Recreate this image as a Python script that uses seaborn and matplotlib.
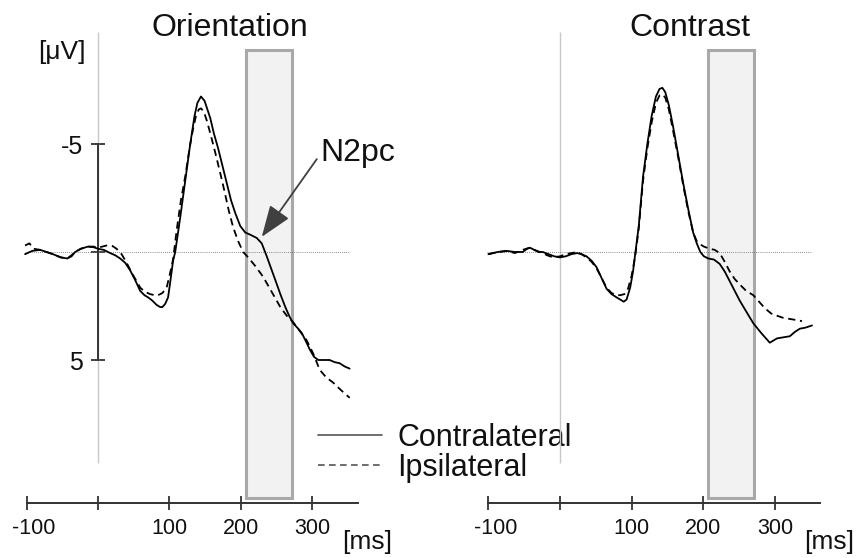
import numpy as np
import pandas as pd
import matplotlib
matplotlib.use("Agg")
import matplotlib.pyplot as plt
import seaborn as sns
from matplotlib.patches import Rectangle
from matplotlib.transforms import ScaledTranslation

# ---------------- data ----------------
panels = ["Orientation", "Contrast"]
sides = ["Contralateral", "Ipsilateral"]

ori_contra_t = [-102, -92, -81, -72, -63, -52, -43, -37, -32, -24, -14, -6, 0, 8, 17, 24, 31, 38, 45, 52,
                59, 65, 70, 76, 82, 87, 90, 94, 98, 101, 105, 108, 115, 122, 129, 135, 139, 144, 149, 153,
                157, 162, 168, 174, 180, 186, 192, 199, 206, 213, 222, 229, 236, 242, 248, 255, 262, 268,
                273, 280, 285, 291, 296, 302, 308, 316, 324, 331, 338, 345, 352]
ori_contra_v = [0.1, -0.05, -0.1, 0.0, 0.1, 0.25, 0.3, 0.2, 0.0, -0.15, -0.25, -0.22, -0.15, -0.1, 0.05, 0.15,
                0.3, 0.5, 0.85, 1.3, 1.8, 2.0, 2.1, 2.25, 2.45, 2.55, 2.55, 2.4, 2.1, 1.4, 0.4, 0.0, -1.6, -3.3,
                -5.0, -6.3, -6.9, -7.2, -7.0, -6.6, -6.2, -5.5, -4.8, -4.0, -3.2, -2.4, -1.8, -1.2, -0.9,
                -0.8, -0.65, -0.4, 0.2, 0.75, 1.3, 1.95, 2.55, 3.0, 3.3, 3.55, 3.75, 4.15, 4.5, 4.85, 5.0,
                5.0, 5.0, 5.1, 5.15, 5.3, 5.4]

ori_ipsi_t = [-102, -96, -90, -81, -72, -63, -52, -43, -37, -32, -24, -14, -6, 0, 6, 12, 20, 26, 33, 40, 47,
              53, 59, 66, 73, 79, 84, 90, 96, 100, 105, 110, 116, 122, 128, 133, 137, 141, 144, 148, 152,
              157, 164, 171, 177, 183, 189, 196, 203, 210, 220, 231, 243, 255, 264, 273, 282, 292, 301,
              310, 319, 329, 340, 352]
ori_ipsi_v = [-0.3, -0.4, -0.15, -0.1, 0.0, 0.1, 0.25, 0.3, 0.15, 0.0, -0.15, -0.25, -0.25, -0.2, -0.25,
              -0.3, -0.28, -0.15, 0.1, 0.5, 0.95, 1.3, 1.65, 1.85, 1.95, 2.0, 2.0, 1.9, 1.65, 1.1, 0.35,
              -1.0, -2.4, -3.5, -4.8, -5.7, -6.3, -6.6, -6.65, -6.5, -6.1, -5.5, -4.6, -3.65, -2.8, -1.9,
              -1.15, -0.5, 0.0, 0.25, 0.65, 1.15, 1.85, 2.55, 2.95, 3.25, 3.65, 4.1, 4.7, 5.45, 5.8, 6.05,
              6.4, 6.75]

con_contra_t = [-100, -87, -74, -63, -52, -46, -42, -36, -30, -24, -16, -8, 0, 8, 16, 24, 30, 37, 44, 51, 58,
                65, 72, 79, 84, 89, 93, 98, 102, 105, 110, 116, 122, 128, 134, 139, 143, 147, 152, 158,
                165, 172, 179, 186, 191, 196, 201, 207, 215, 223, 230, 237, 244, 251, 260, 270, 281, 293,
                298, 303, 312, 321, 328, 335, 343, 352]
con_contra_v = [0.1, 0.0, -0.05, 0.0, 0.0, -0.15, -0.2, -0.1, 0.0, 0.0, 0.1, 0.2, 0.25, 0.2, 0.1, 0.05, 0.1,
                0.2, 0.4, 0.7, 1.2, 1.7, 1.95, 2.1, 2.2, 2.3, 2.2, 1.65, 0.9, 0.1, -1.2, -3.5, -5.0, -6.3,
                -7.2, -7.55, -7.6, -7.4, -6.8, -5.8, -4.5, -3.2, -2.0, -0.9, -0.4, 0.0, 0.2, 0.3, 0.35,
                0.55, 0.9, 1.35, 1.8, 2.25, 2.75, 3.3, 3.75, 4.2, 4.1, 4.0, 3.95, 3.9, 3.7, 3.55, 3.5, 3.4]

con_ipsi_t = [-100, -87, -74, -63, -52, -42, -36, -24, -18, -10, 0, 8, 16, 24, 30, 37, 44, 51, 58, 65, 72,
              79, 84, 90, 95, 100, 105, 110, 116, 122, 128, 134, 139, 143, 147, 152, 158, 165, 172, 179,
              186, 191, 196, 201, 209, 216, 223, 230, 237, 244, 251, 260, 270, 278, 286, 295, 303, 312,
              321, 330, 338]
con_ipsi_v = [0.1, 0.0, -0.05, 0.05, -0.1, -0.2, -0.1, 0.05, 0.15, 0.25, 0.2, 0.1, 0.05, 0.0, 0.1, 0.25,
              0.45, 0.75, 1.2, 1.65, 1.9, 2.0, 2.0, 1.95, 1.7, 1.1, 0.2, -1.1, -3.3, -4.8, -6.0, -6.9,
              -7.25, -7.3, -7.15, -6.6, -5.6, -4.4, -3.1, -1.9, -0.9, -0.5, -0.35, -0.25, -0.15, -0.1,
              0.05, 0.45, 0.9, 1.25, 1.5, 1.8, 2.0, 2.3, 2.6, 2.85, 2.95, 3.05, 3.1, 3.15, 3.2]

xtick_values = [-100, 0, 100, 200, 300]
xtick_labels = ["-100", "", "100", "200", "300"]
ytick_values = [-5, 0, 5]
ytick_labels = ["-5", "", "5"]
window = (207, 271)          # N2pc time window [ms]
n2pc_tip = (229, -0.7)       # point the arrow indicates

rows = []
for pan, side, t, v in [("Orientation", "Contralateral", ori_contra_t, ori_contra_v),
                        ("Orientation", "Ipsilateral", ori_ipsi_t, ori_ipsi_v),
                        ("Contrast", "Contralateral", con_contra_t, con_contra_v),
                        ("Contrast", "Ipsilateral", con_ipsi_t, con_ipsi_v)]:
    for a, b in zip(t, v):
        rows.append((pan, side, a, b))
df = pd.DataFrame(rows, columns=["panel", "side", "time", "uv"])

# ---------------- style ----------------
sns.set_style("white")
plt.rcParams["font.family"] = ["Liberation Sans", "DejaVu Sans"]

W, H, DPI = 859, 558, 100
fig = plt.figure(figsize=(W / DPI, H / DPI), dpi=DPI)

XLIM = (-110, 370)
YLIM = (12.5, -11)  # inverted: negative up
px_per_uv = 21.6
y0_px = 252.0


def axes_rect(x0_px, px_per_ms):
    left = x0_px + px_per_ms * XLIM[0]
    right = x0_px + px_per_ms * XLIM[1]
    top = y0_px + px_per_uv * YLIM[1]
    bottom = y0_px + px_per_uv * YLIM[0]
    return [left / W, 1 - bottom / H, (right - left) / W, (bottom - top) / H]


ax_l = fig.add_axes(axes_rect(98.0, 0.715))
ax_r = fig.add_axes(axes_rect(560.0, 0.716))

axis_col = "#333333"
dash_pat = (4, 2.6)

for ax, pan in [(ax_l, "Orientation"), (ax_r, "Contrast")]:
    ax.set_xlim(*XLIM)
    ax.set_ylim(*YLIM)
    ax.patch.set_alpha(0)
    # window
    ax.add_patch(Rectangle((window[0], -9.33), window[1] - window[0], 20.73,
                           facecolor="#f2f2f2", edgecolor="#a9a9a9", lw=2.2, zorder=1))
    # stimulus onset line
    ax.vlines(0, -10.2, 9.75, color="#c8c8c8", lw=1.0, zorder=1.5)
    # zero line
    ax.hlines(0, -102, 352, color="#666666", lw=0.6, linestyles=(0, (1, 1.5)), zorder=2)

    sub = df[df.panel == pan]
    sns.lineplot(data=sub, x="time", y="uv", style="side", style_order=sides,
                 dashes={"Contralateral": "", "Ipsilateral": dash_pat},
                 color="black", lw=1.3, estimator=None, sort=False, ax=ax, zorder=3,
                 legend=(pan == "Orientation"))
    ax.set_xlabel("")
    ax.set_ylabel("")

    for s in ["top", "right"]:
        ax.spines[s].set_visible(False)
    ax.spines["bottom"].set_position(("data", 11.6))
    ax.spines["bottom"].set_bounds(-100, 363)
    ax.spines["bottom"].set_color(axis_col)
    ax.spines["bottom"].set_linewidth(1.4)
    ax.set_xticks(xtick_values)
    ax.set_xticklabels(xtick_labels)
    ax.tick_params(axis="x", bottom=True, direction="inout", length=10, width=1.3, color=axis_col,
                   labelsize=15.5, pad=6, labelcolor="#111111")

    ax.text(376, 13.77, "[ms]", ha="center", va="baseline", fontsize=19, color="#111111",
            clip_on=False)
    ax.text(185 if pan == "Orientation" else 182, -10.0, pan, ha="center", va="baseline",
            fontsize=23, color="#111111", clip_on=False)

# left y axis
ax_l.spines["left"].set_position(("data", 0))
ax_l.spines["left"].set_bounds(-5, 5)
ax_l.spines["left"].set_color(axis_col)
ax_l.spines["left"].set_linewidth(1.4)
ax_l.spines["left"].set_zorder(2.5)
ax_l.set_yticks(ytick_values)
ax_l.set_yticklabels(ytick_labels)
ax_l.tick_params(axis="y", left=True, direction="inout", length=9.5, width=1.3, color=axis_col,
                 labelsize=18, pad=6, labelcolor="#111111")
ax_l.text(-18, -8.94, "[\u03bcV]", ha="right", va="baseline", fontsize=19, color="#111111")

ax_r.spines["left"].set_visible(False)
ax_r.set_yticks([])

# shift "-100" labels a bit to the right, as in the reference
for ax in (ax_l, ax_r):
    lab = ax.get_xticklabels()[0]
    lab.set_transform(lab.get_transform() + ScaledTranslation(7 / DPI, 0, fig.dpi_scale_trans))

# N2pc annotation
ax_l.annotate("", xy=n2pc_tip, xytext=(306, -4.3),
              arrowprops=dict(arrowstyle="-|>,head_length=0.65,head_width=0.24",
                              mutation_scale=30, color="#404040", lw=1.3,
                              shrinkA=0, shrinkB=0), zorder=4)
ax_l.text(311, -4.21, "N2pc", ha="left", va="baseline", fontsize=23, color="#111111")

# legend
handles, labels = ax_l.get_legend_handles_labels()
leg = ax_l.legend(handles, labels, loc="upper left",
                  bbox_to_anchor=(318 / W, 1 - 423 / H), bbox_transform=fig.transFigure,
                  frameon=False, fontsize=22, handlelength=2.1, handletextpad=0.5,
                  labelspacing=0.0, borderpad=0, borderaxespad=0)
for ln in leg.get_lines():
    ln.set_color("#555555")
    ln.set_linewidth(1.2)
for t in leg.get_texts():
    t.set_color("#111111")

fig.savefig("out.png", dpi=DPI)
